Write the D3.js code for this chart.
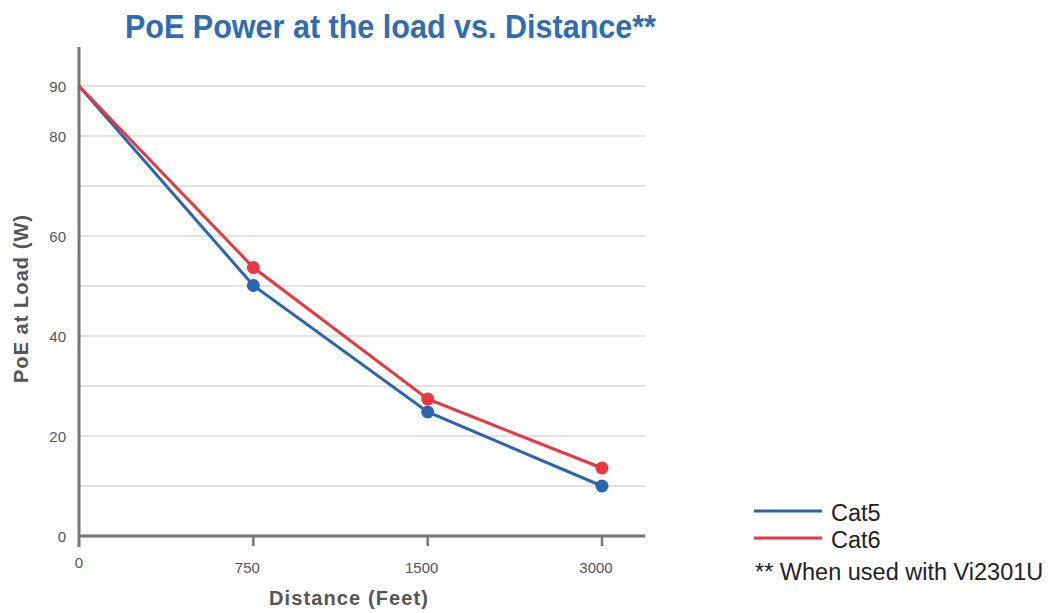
<!DOCTYPE html>
<html><head><meta charset="utf-8">
<script src="https://cdn.jsdelivr.net/npm/d3@7"></script>
<style>body{margin:0;background:#fff;}svg{display:block;}</style>
</head><body>
<svg id="c" width="1063" height="613"></svg>
<script>
const categories = ["0", "750", "1500", "3000"];
const cat5 = [90, 50.1, 24.8, 10.0];
const cat6 = [90, 53.7, 27.4, 13.6];
const seriesNames = ["Cat5", "Cat6"];
const yTickLabels = [0, 20, 40, 60, 80, 90];
const gridValues = [0, 10, 20, 30, 40, 50, 60, 70, 80, 90];
const colors = ["#2a65b0", "#e8383f"];

const svg = d3.select("#c");
const x = d3.scalePoint().domain(categories).range([79, 602]);
const y = d3.scaleLinear().domain([0, 90]).range([536, 86]);
const font = "'Liberation Sans', Arial, sans-serif";

// title
svg.append("text").attr("x", 125).attr("y", 38)
  .attr("font-family", "'Liberation Sans Narrow', 'Arial Narrow', 'Liberation Sans', sans-serif")
  .attr("font-weight", "bold").attr("font-size", 33).attr("fill", "#2e6cb4")
  .attr("textLength", 531).attr("lengthAdjust", "spacingAndGlyphs")
  .text("PoE Power at the load vs. Distance**");

// grid
svg.append("g").selectAll("line").data(gridValues.filter(d => d > 0)).join("line")
  .attr("x1", 79).attr("x2", 645).attr("y1", d => y(d)).attr("y2", d => y(d))
  .attr("stroke", "#c8c8c8").attr("stroke-width", 1.2);

// y tick labels
svg.append("g").selectAll("text").data(yTickLabels).join("text")
  .attr("x", 66).attr("y", d => y(d) + 6).attr("text-anchor", "end")
  .attr("font-family", font).attr("font-size", 15).attr("fill", "#555")
  .text(d => d);

// x axis
svg.append("line").attr("x1", 79).attr("x2", 645).attr("y1", 536).attr("y2", 536)
  .attr("stroke", "#777").attr("stroke-width", 3);
svg.append("g").selectAll("line").data(categories.slice(1)).join("line")
  .attr("x1", d => x(d)).attr("x2", d => x(d)).attr("y1", 536).attr("y2", 546)
  .attr("stroke", "#777").attr("stroke-width", 2.5);
svg.append("g").selectAll("text").data(categories).join("text")
  .attr("x", d => x(d)).attr("dx", (d, i) => i === 0 ? 0 : -6)
  .attr("y", (d, i) => i === 0 ? 568 : 573).attr("text-anchor", "middle")
  .attr("font-family", font).attr("font-size", 15).attr("fill", "#555")
  .text(d => d);

// y axis
svg.append("line").attr("x1", 79).attr("x2", 79).attr("y1", 47).attr("y2", 547)
  .attr("stroke", "#777").attr("stroke-width", 3);

// axis titles
svg.append("text").attr("x", 269).attr("y", 605)
  .attr("font-family", font).attr("font-weight", "bold")
  .attr("font-size", 20).attr("fill", "#555")
  .attr("textLength", 159).attr("lengthAdjust", "spacing").text("Distance (Feet)");
svg.append("text").attr("transform", "translate(28,383) rotate(-90)")
  .attr("font-family", font).attr("font-weight", "bold")
  .attr("font-size", 20).attr("fill", "#555")
  .attr("textLength", 168).attr("lengthAdjust", "spacing").text("PoE at Load (W)");

// lines
const line = d3.line().x((d, i) => x(categories[i])).y(d => y(d));
[cat5, cat6].forEach((s, k) => {
  svg.append("path").datum(s).attr("d", line).attr("fill", "none")
    .attr("stroke", colors[k]).attr("stroke-width", 3);
  svg.append("g").selectAll("circle").data(s.slice(1)).join("circle")
    .attr("cx", (d, i) => x(categories[i + 1])).attr("cy", d => y(d)).attr("r", 6.5)
    .attr("fill", colors[k]);
});

// legend
seriesNames.forEach((n, k) => {
  const ly = 511 + k * 27;
  svg.append("line").attr("x1", 754).attr("x2", 822).attr("y1", ly).attr("y2", ly)
    .attr("stroke", colors[k]).attr("stroke-width", 3);
  svg.append("text").attr("x", 831).attr("y", ly + 10)
    .attr("font-family", font).attr("font-size", 23.5).attr("fill", "#222")
    .text(n);
});
svg.append("text").attr("x", 755).attr("y", 580)
  .attr("font-family", font).attr("font-size", 23.5).attr("fill", "#222")
  .text("** When used with Vi2301U");
</script>
</body></html>
